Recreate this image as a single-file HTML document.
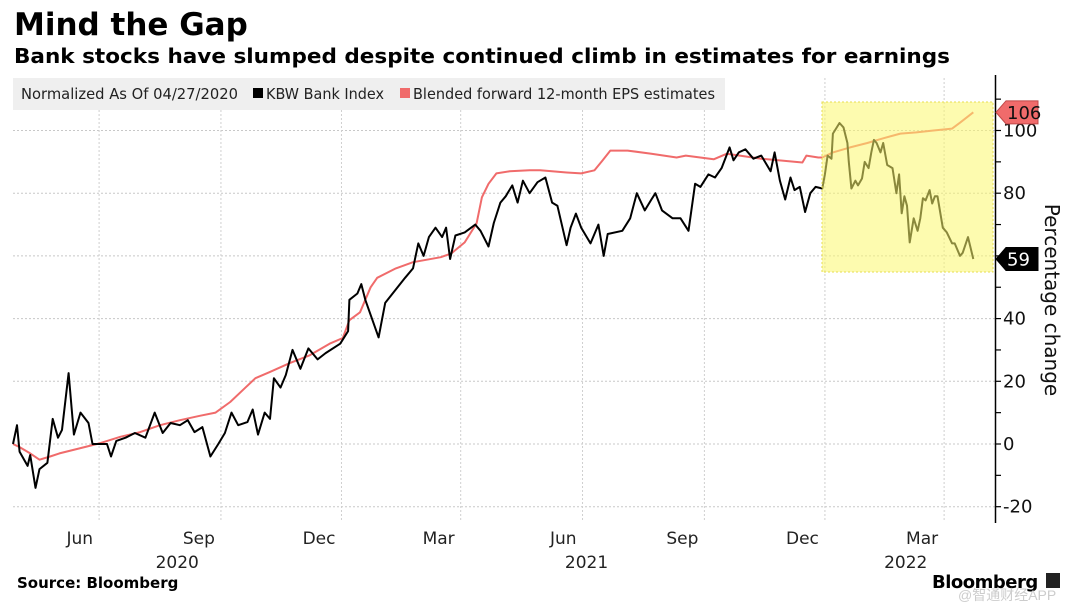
<!DOCTYPE html>
<html><head><meta charset="utf-8"><style>
html,body{margin:0;padding:0;background:#fff;}
svg{display:block;}
</style></head><body>
<svg id="chart" width="1077" height="610" viewBox="0 0 1077 610" xmlns="http://www.w3.org/2000/svg" font-family="'DejaVu Sans','Liberation Sans',sans-serif">
<text x="14" y="35" font-size="31" font-weight="bold" fill="#000">Mind the Gap</text>
<text x="14" y="63" font-size="20" font-weight="bold" fill="#000" textLength="936" lengthAdjust="spacingAndGlyphs">Bank stocks have slumped despite continued climb in estimates for earnings</text>
<g id="grid"></g>
<g>
<rect x="13" y="78" width="712" height="32" fill="#efefef"/>
<text x="21" y="99" font-size="15" fill="#222" textLength="217" lengthAdjust="spacingAndGlyphs">Normalized As Of 04/27/2020</text>
<rect x="253" y="88" width="10" height="10" fill="#000"/>
<text x="266" y="99" font-size="15" fill="#222" textLength="118" lengthAdjust="spacingAndGlyphs">KBW Bank Index</text>
<rect x="400" y="88" width="10" height="10" fill="#f06b6b"/>
<text x="413" y="99" font-size="15" fill="#222" textLength="302" lengthAdjust="spacingAndGlyphs">Blended forward 12-month EPS estimates</text>
</g>
<g id="series"></g>
<rect x="822" y="102" width="171" height="170" fill="rgba(252,248,110,0.55)" stroke="#e6dc50" stroke-width="1" stroke-dasharray="2,2"/>
<g id="axes"></g>
<text transform="translate(1045,300) rotate(90)" text-anchor="middle" font-size="20" fill="#111">Percentage change</text>
<text x="17" y="588" font-size="15" font-weight="bold" fill="#000">Source: Bloomberg</text>
<text x="932" y="588" font-size="18" font-weight="bold" fill="#000" letter-spacing="-0.5">Bloomberg</text>
<rect x="1046" y="573" width="14" height="15" fill="#222"/>
<text x="958" y="600" font-size="14" fill="#ccc" font-family="'Liberation Sans','Noto Sans CJK SC',sans-serif">@智通财经APP</text>
</svg>
<script>
const kbwDays=[0,3,5,11,13,17,20,26,30,34,37,42,46,51,57,60,66,71,74,78,85,92,100,107,113,119,126,132,137,143,149,155,160,165,170,177,181,185,190,194,197,202,206,211,217,223,230,236,247,253,254,260,263,266,276,281,296,302,306,310,314,319,324,327,330,334,341,349,353,359,363,368,372,377,381,385,390,396,402,407,411,418,421,425,429,436,442,446,449,460,466,471,477,482,485,490,498,504,510,515,519,525,530,535,541,544,548,553,559,565,572,575,579,583,587,590,594,598,602,606,611,613,615,618,619,622,624,627,630,631,633,636,638,641,643,646,648,650,652,655,657,660,664,667,669,671,673,675,677,680,683,685,687,689,692,694,696,698,702,705,709,711,715,717,721,725];
const kbwValues=[0,6,-2.5,-7,-3.5,-14,-8,-6,8,2,4.5,22.6,3,10,6.7,0,0,0,-4,1,2,3.5,2,10,3.5,6.7,6,7.6,3.8,5.4,-4,0,3.5,10,6,7,11,3,10,8,21,18,22,30,24,30.5,27,29,32,36,46,48,51,46,34,45,53,56,64,60,66,69,66,69,59,66.5,67.5,70,68,63,70.5,77,79,82.5,77,84,80,83.5,85,77,76,63.4,69,73.5,69,64,70,60,67,68,72,80,74.5,78,80,74.5,72,72,68,83,82,86,85,88,94.6,90.5,93,94,91,92,87,93,84,78,85,81,82,74,80,82,81.5,86,92,91,99,101,102.4,101,96,90,81.5,84,82.5,84.7,90,88,93,97,96,93,96,89,88,80,86,73.6,79,76,64.3,72,68,72,78.4,77.7,81,76.7,79,79,69,67.5,64,64,60,61,66,59];
const epsDays=[0,5,13,20,28,35,51,66,81,96,111,126,141,153,164,175,183,194,209,224,239,249,254,262,270,275,289,302,323,331,341,350,354,359,365,375,390,398,418,429,439,445,451,464,482,501,508,529,539,565,596,599,608,611,619,632,645,657,670,682,695,709,715,725];
const epsValues=[0,-1,-3,-5,-4,-3,-1.3,0.3,2.3,3.8,6,7.6,9,10,13.4,17.8,21,23,25.8,28.3,32,33.8,39.5,42,50,53,56,58,59.6,60.8,64.3,70.4,78.7,83,86.3,87,87.3,87.3,86.6,86.3,87.3,90.4,93.6,93.6,92.6,91.4,92,90.8,92.6,91,89.8,92,91.4,91.4,93,94.6,96,97.5,99,99.4,100,100.6,102.5,105.8];
const yTicks=[-20,0,20,40,60,80,100];
const yLabels=["-20","0","20","40","","80","100"];
const monthDays=[65,157,248,338,430,522,613,703];
const monthLabels=["Jun","Sep","Dec","Mar","Jun","Sep","Dec","Mar"];
const yearLabels=["2020","2021","2022"];
const yearDays=[124,433,674];

const NS="http://www.w3.org/2000/svg";
const X0=13,PX=1.3245,Y0=444,PY=3.135;
function xs(d){return X0+d*PX;}
function ys(v){return Y0-v*PY;}
function mk(tag,attrs,parent){const e=document.createElementNS(NS,tag);for(const k in attrs)e.setAttribute(k,attrs[k]);parent.appendChild(e);return e;}
const grid=document.getElementById('grid'),series=document.getElementById('series'),axes=document.getElementById('axes');

yTicks.forEach((v,i)=>{
  const l=mk('line',{x1:13,x2:995,y1:ys(v),y2:ys(v),stroke:'#c8c8c8','stroke-width':1,'stroke-dasharray':'2,2'},grid);
  
  
});
monthDays.forEach((d,i)=>{
  const l=mk('line',{x1:xs(d),x2:xs(d),y1:78,y2:521,stroke:'#cfcfcf','stroke-width':1,'stroke-dasharray':'2,2'},grid);
  
  
  const t=mk('text',{x:xs(d)-6,y:544,'text-anchor':'end','font-size':17,fill:'#222'},axes);
  t.textContent=monthLabels[i];
  
  
});
yearDays.forEach((d,i)=>{
  const t=mk('text',{x:xs(d),y:568,'text-anchor':'middle','font-size':17,fill:'#222'},axes);
  t.textContent=yearLabels[i];
  
  
});
function path(days,vals){let s='';const n=Math.min(days.length,vals.length);for(let i=0;i<n;i++)s+=(i?'L':'M')+xs(days[i]).toFixed(1)+','+ys(vals[i]).toFixed(1);return s;}
const pe=mk('path',{d:path(epsDays,epsValues),fill:'none',stroke:'#f06b6b','stroke-width':2,'stroke-linejoin':'round'},series);


const pk=mk('path',{d:path(kbwDays,kbwValues),fill:'none',stroke:'#000','stroke-width':2,'stroke-linejoin':'round'},series);



const ax=mk('line',{x1:995.5,x2:995.5,y1:75,y2:523,stroke:'#000','stroke-width':1.5},axes);


for(let v=-20;v<=110;v+=10){
  const tk=mk('line',{x1:995,x2:1001,y1:ys(v),y2:ys(v),stroke:'#000','stroke-width':1.2},axes);
  
  
}
yTicks.forEach((v,i)=>{
  if(!yLabels[i])return;
  const t=mk('text',{x:1003,y:ys(v)+6,'font-size':18,fill:'#111'},axes);
  t.textContent=yLabels[i];
  
  
});
function flag(v,fill,txtFill,name,stroke){
  const y=ys(v);
  const p=mk('path',{d:`M996,${y}L1006,${y-11.5}H1038V${y+11.5}H1006Z`,fill:fill,stroke:stroke,'stroke-width':1},axes);
  
  
  const t=mk('text',{x:1007,y:y+6.5,'font-size':18,fill:txtFill},axes);
  t.textContent=String(Math.round(v));
  
  
}
flag(epsValues[epsValues.length-1],'#f06b6b','#111','eps-last-value','#c04848');
flag(kbwValues[kbwValues.length-1],'#000','#fff','kbw-last-value','#000');
</script>
</body></html>
